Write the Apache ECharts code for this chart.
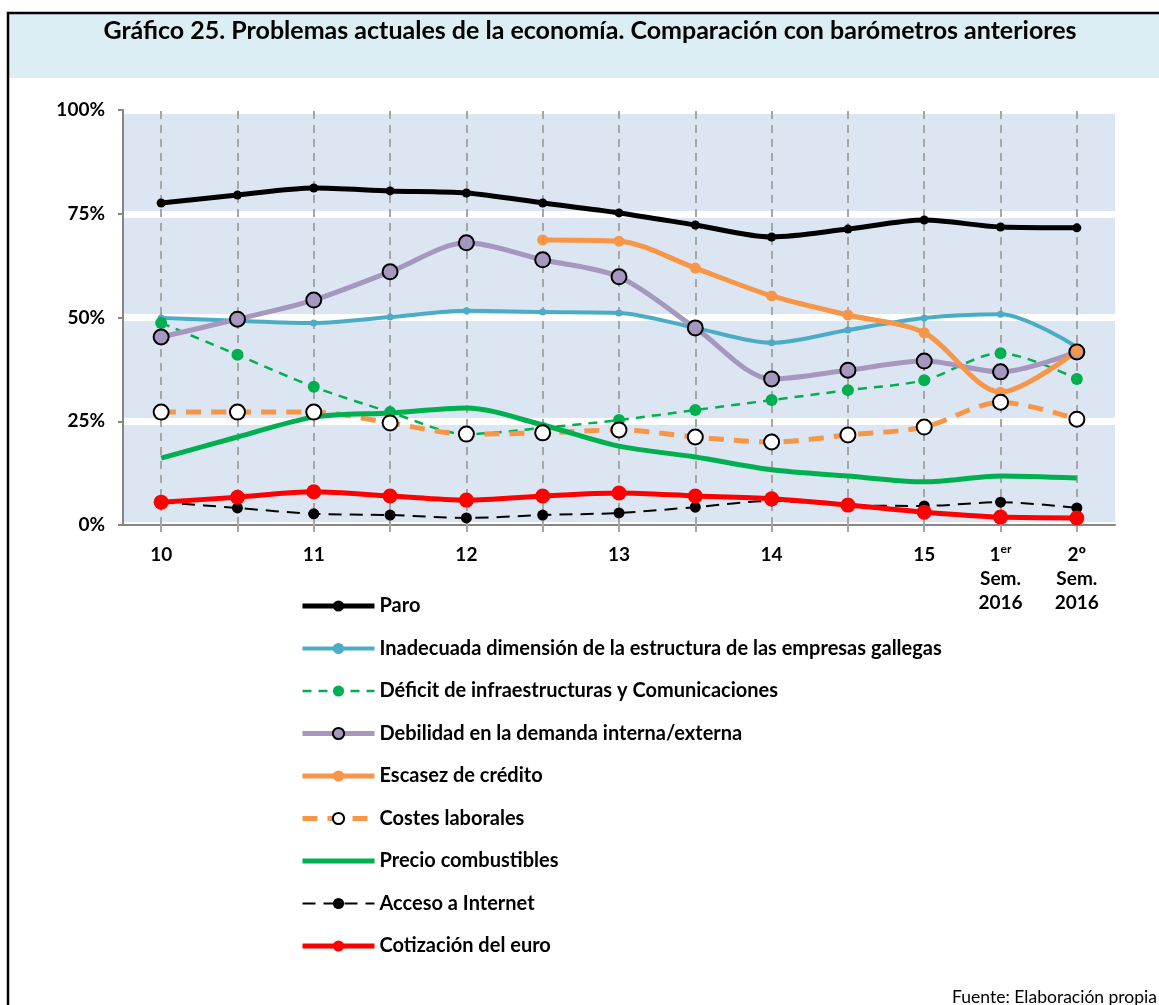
<!DOCTYPE html>
<html>
<head>
<meta charset="utf-8">
<script src="https://cdn.jsdelivr.net/npm/echarts@6/dist/echarts.min.js"></script>
<style>
  html, body { margin: 0; padding: 0; background: #fff; }
  #chart { width: 1159px; height: 1005px; }
</style>
</head>
<body>
<div id="chart"></div>
<script>
var myChart = echarts.init(document.getElementById('chart'));

// categorias (barometros) y etiquetas del eje
var categories = ['10', '10b', '11', '11b', '12', '12b', '13', '13b', '14', '14b', '15', '1S2016', '2S2016'];
var tickLabels = ['10', '', '11', '', '12', '', '13', '', '14', '', '15', '{b|1}{sup|er}\n{b|Sem.}\n{b|2016}', '{b|2º}\n{b|Sem.}\n{b|2016}'];
var yTicks = [0, 25, 50, 75, 100];

// valores (%)
var paro        = [77.6, 79.5, 81.2, 80.5, 80.0, 77.6, 75.2, 72.3, 69.4, 71.3, 73.5, 71.8, 71.6];
var inadecuada  = [49.9, 49.2, 48.7, 50.1, 51.6, 51.3, 51.1, 47.5, 43.9, 47.0, 49.9, 50.8, 42.9];
var deficit     = [48.7, 41.0, 33.3, 27.2, 21.9, 23.4, 25.3, 27.7, 30.1, 32.5, 34.9, 41.4, 35.2];
var debilidad   = [45.3, 49.6, 54.2, 61.0, 68.0, 63.9, 59.8, 47.5, 35.2, 37.3, 39.5, 36.9, 41.7];
var escasez     = [null, null, null, null, null, 68.7, 68.4, 61.9, 55.2, 50.6, 46.3, 32.0, 41.9];
var costes      = [27.2, 27.2, 27.2, 24.6, 21.9, 22.2, 22.9, 21.2, 20.0, 21.7, 23.6, 29.6, 25.5];
var combustible = [16.1, 21.2, 26.0, 27.0, 28.2, 24.1, 19.0, 16.4, 13.3, 11.8, 10.4, 11.8, 11.3];
var internet    = [5.5, 4.1, 2.7, 2.4, 1.7, 2.4, 2.9, 4.3, 5.8, 4.8, 4.6, 5.5, 4.1];
var euro        = [5.5, 6.7, 8.0, 7.0, 6.0, 7.0, 7.7, 7.0, 6.3, 4.8, 3.1, 1.9, 1.7];

var FONT = 'Lato';
var SM = 0.3;

function serie(name, data, color, width, type, symbol, size, fill, border) {
    return {
        name: name,
        type: 'line',
        data: data,
        smooth: SM,
        connectNulls: false,
        symbol: symbol,
        symbolSize: size,
        showSymbol: symbol !== 'none',
        lineStyle: { color: color, width: width, type: type },
        itemStyle: {
            color: fill || color,
            borderColor: border || fill || color,
            borderWidth: border ? 2 : 0
        },
        emphasis: { disabled: true },
        z: 3
    };
}

var series = [
    {
        // lineas verticales discontinuas en cada barometro
        type: 'line',
        data: [],
        silent: true,
        z: 1,
        markLine: {
            silent: true,
            z: 1,
            symbol: 'none',
            animation: false,
            label: { show: false },
            lineStyle: { color: '#a6a6a6', width: 2, type: [8, 6] },
            data: categories.map(function (c, i) { return { xAxis: i }; })
        }
    },
    serie('Paro', paro, '#000000', 5, 'solid', 'circle', 9),
    serie('Inadecuada dimensión de la estructura de las empresas gallegas', inadecuada, '#4bacc6', 4, 'solid', 'circle', 7),
    serie('Déficit de infraestructuras y Comunicaciones', deficit, '#00b050', 2.5, [9, 7], 'circle', 12),
    serie('Debilidad en la demanda interna/externa', debilidad, '#a597bd', 5, 'solid', 'circle', 15, '#a597bd', '#000000'),
    serie('Escasez de crédito', escasez, '#f79646', 5, 'solid', 'circle', 11),
    serie('Costes laborales', costes, '#f79646', 5, [15, 10], 'circle', 15, '#ffffff', '#000000'),
    serie('Precio combustibles', combustible, '#00b050', 5, 'solid', 'none', 0),
    serie('Acceso a Internet', internet, '#000000', 2, [13, 8], 'circle', 11),
    serie('Cotización del euro', euro, '#ff0000', 5, 'solid', 'circle', 15)
];

var legendData = series.slice(1).map(function (s) {
    var item = { name: s.name, lineStyle: { width: s.lineStyle.width } };
    if (s.symbol === 'none') item.itemStyle = { opacity: 0 };
    return item;
});

var option = {
    animation: false,
    backgroundColor: '#ffffff',
    textStyle: { fontFamily: FONT },
    graphic: [
        {
            type: 'rect',
            shape: { x: 9, y: 14, width: 1160, height: 64 },
            style: { fill: '#daeef3' },
            z: -10
        },
        {
            type: 'rect',
            shape: { x: 8, y: 13, width: 1160, height: 1000 },
            style: { fill: 'none', stroke: '#000000', lineWidth: 2.5 },
            z: -9
        },
        {
            type: 'text',
            style: {
                x: 590,
                y: 31,
                text: 'Gráfico 25. Problemas actuales de la economía. Comparación con barómetros anteriores',
                font: 'bold 25px ' + FONT,
                fill: '#000000',
                textAlign: 'center',
                textVerticalAlign: 'middle'
            }
        },
        {
            type: 'text',
            style: {
                x: 1157,
                y: 997,
                text: 'Fuente: Elaboración propia',
                font: '17.5px ' + FONT,
                fill: '#000000',
                textAlign: 'right',
                textVerticalAlign: 'middle'
            }
        }
    ],
    grid: {
        left: 123,
        right: 44,
        top: 110,
        bottom: 480,
        show: true,
        backgroundColor: '#dce6f2',
        borderWidth: 0
    },
    legend: {
        orient: 'vertical',
        left: 300,
        top: 596,
        padding: 0,
        itemWidth: 72,
        itemHeight: 14,
        itemGap: 22.5,
        selectedMode: false,
        data: legendData,
        textStyle: { fontFamily: FONT, fontSize: 20, lineHeight: 20, fontWeight: 'bold', color: '#000' }
    },
    xAxis: {
        type: 'category',
        data: categories,
        boundaryGap: true,
        axisLine: { show: true, lineStyle: { color: '#868686', width: 2 } },
        axisTick: { show: true, alignWithLabel: true, interval: 0, length: 7, lineStyle: { color: '#a6a6a6', width: 2 } },
        splitLine: { show: false },
        axisLabel: {
            interval: 0,
            margin: 18,
            color: '#000',
            fontFamily: FONT,
            fontSize: 19,
            fontWeight: 'bold',
            lineHeight: 24,
            formatter: function (v, i) { return tickLabels[i]; },
            rich: {
                b: { fontFamily: FONT, fontSize: 19, fontWeight: 'bold', color: '#000', lineHeight: 24 },
                sup: { fontFamily: FONT, fontSize: 12, fontWeight: 'bold', color: '#000', lineHeight: 24, verticalAlign: 'top', padding: [0, 0, 6, 0] }
            }
        }
    },
    yAxis: {
        type: 'value',
        min: yTicks[0],
        max: yTicks[yTicks.length - 1],
        interval: 25,
        axisLine: { show: true, lineStyle: { color: '#868686', width: 2 } },
        axisTick: { show: true, length: 5, lineStyle: { color: '#868686', width: 2 } },
        splitLine: { show: true, lineStyle: { color: '#ffffff', width: 7 } },
        axisLabel: {
            margin: 18,
            color: '#000',
            fontFamily: FONT,
            fontSize: 19,
            fontWeight: 'bold',
            formatter: '{value}%'
        }
    },
    series: series
};

myChart.setOption(option);
</script>
</body>
</html>
